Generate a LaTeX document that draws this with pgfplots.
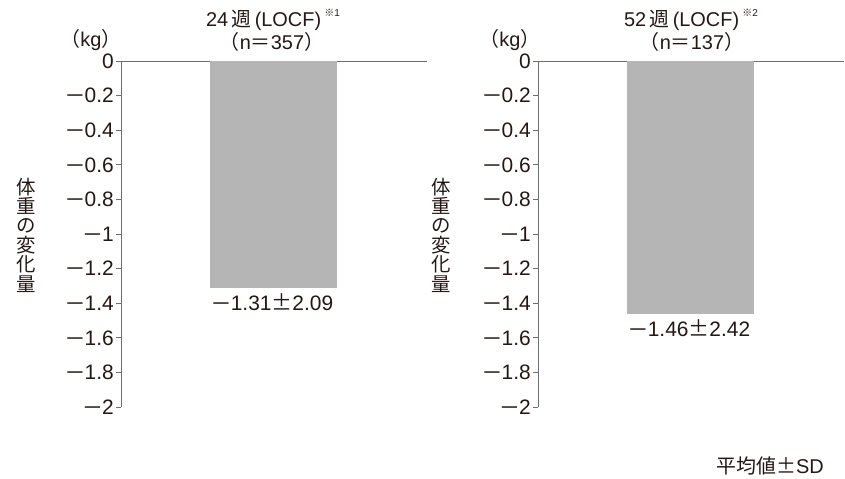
\documentclass[border=0pt]{standalone}
\usepackage{graphicx}
\usepackage{pgfplots}
\pgfplotsset{compat=1.18}
\usepackage{fontspec}
\setmainfont{Liberation Sans}
\newfontfamily\cjk{Noto Sans CJK JP}
\definecolor{txt}{HTML}{231815}
\definecolor{axc}{HTML}{6E6E6E}
\definecolor{barc}{HTML}{B5B5B5}
\newcommand\mn{\makebox[0.86em][l]{\hspace{-0.04em}\scalebox{1.5}[1]{−}}}
\newcommand\pmx{{\cjk ±}}
\begin{document}
\begin{tikzpicture}[x=1bp,y=1bp]
\path (0,0) rectangle (845,-479);
\pgfplotsset{
 panel/.style={
  scale only axis, width=306bp, height=346bp,
  anchor=north west,
  xmin=0, xmax=306, ymin=-2, ymax=0,
  axis x line=top, axis y line=left,
  axis line style={-, draw=axc, line width=0.9pt},
  xtick=\empty,
  ytick={0,-0.2,-0.4,-0.6,-0.8,-1,-1.2,-1.4,-1.6,-1.8,-2},
  yticklabels={0,\mn0.2,\mn0.4,\mn0.6,\mn0.8,\mn1,\mn1.2,\mn1.4,\mn1.6,\mn1.8,\mn2},
  tick align=outside, major tick length=5bp,
  ytick style={draw=axc, line width=0.9pt},
  yticklabel style={font=\fontsize{21}{21}\selectfont, text=txt, inner sep=2bp},
  clip=false,
 }
}
\begin{axis}[panel, at={(121bp,-61bp)}]
\addplot[ybar, bar width=127bp, fill=barc, draw=none] coordinates {(152,-1.31)};
\end{axis}
\begin{axis}[panel, at={(538bp,-61bp)}]
\addplot[ybar, bar width=127bp, fill=barc, draw=none] coordinates {(152,-1.46)};
\end{axis}
\tikzset{every node/.style={text=txt, inner sep=0pt}}
% titles
\node[font=\fontsize{20}{20}\selectfont] at (273,-20) {24\,{\cjk 週}\,(LOCF)\,\raisebox{0.5em}{\fontsize{10}{10}\selectfont{\cjk ※}1}};
\node[font=\fontsize{20}{20}\selectfont] at (272,-42) {{\cjk （}n{\cjk ＝}357{\cjk ）}};
\node[font=\fontsize{20}{20}\selectfont] at (691,-20) {52\,{\cjk 週}\,(LOCF)\,\raisebox{0.5em}{\fontsize{10}{10}\selectfont{\cjk ※}2}};
\node[font=\fontsize{20}{20}\selectfont] at (692,-42) {{\cjk （}n{\cjk ＝}137{\cjk ）}};
% units
\node[font=\fontsize{20}{20}\selectfont] at (91,-40) {{\cjk （}kg{\cjk ）}};
\node[font=\fontsize{20}{20}\selectfont] at (510,-40) {{\cjk （}kg{\cjk ）}};
% y labels
\node[align=center, font=\cjk\fontsize{19.5}{19.5}\selectfont] at (26,-235) {体\\重\\の\\変\\化\\量};
\node[align=center, font=\cjk\fontsize{19.5}{19.5}\selectfont] at (441,-235) {体\\重\\の\\変\\化\\量};
% value labels
\node[font=\fontsize{21}{21}\selectfont] at (273,-302) {\mn1.31\pmx2.09};
\node[font=\fontsize{21}{21}\selectfont] at (690,-328) {\mn1.46\pmx2.42};
% footnote
\node[font=\fontsize{20}{20}\selectfont] at (770,-466) {{\cjk 平均値±}SD};
\end{tikzpicture}
\end{document}
